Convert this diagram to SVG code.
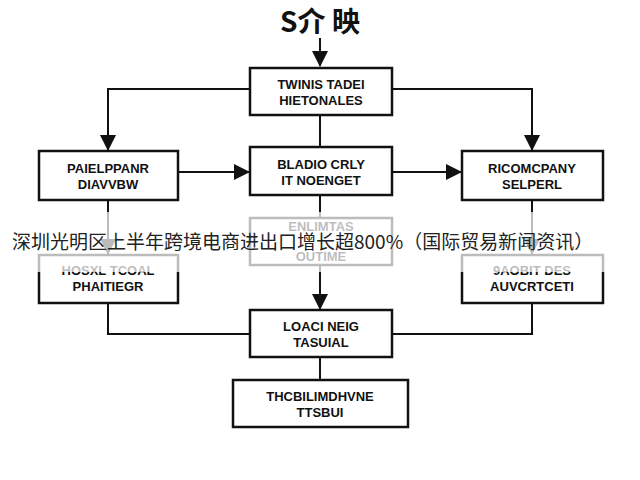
<svg xmlns="http://www.w3.org/2000/svg" width="640" height="480" viewBox="0 0 640 480">
<style>
.b{fill:#fff;stroke:#111;stroke-width:2.5}
.t{font-family:"Liberation Sans",Arial,sans-serif;font-weight:bold;font-size:13px;fill:#111;text-anchor:middle}
.c{fill:none;stroke:#111;stroke-width:2}
</style>
<defs><marker id="a2" markerWidth="16" markerHeight="16" refX="15" refY="8" orient="auto" markerUnits="userSpaceOnUse" viewBox="0 0 16 16"><path d="M0,0L16,8L0,16z" fill="#111"/></marker></defs>
<rect width="640" height="480" fill="#fff"/>
<text x="320" y="32" font-family="'Noto Sans CJK SC',sans-serif" font-weight="bold" font-size="28" text-anchor="middle" fill="#111">S介 映</text>
<g id="connectors">
<path class="c" d="M320,38V66" marker-end="url(#a2)"/>
<path class="c" d="M250,89H108V150" marker-end="url(#a2)"/>
<path class="c" d="M392,89H532V150" marker-end="url(#a2)"/>
<path class="c" d="M320,115V147"/>
<path class="c" d="M178,172H249" marker-end="url(#a2)"/>
<path class="c" d="M392,172H461" marker-end="url(#a2)"/>
<path class="c" d="M108,200V254" marker-end="url(#a2)"/>
<path class="c" d="M532,200V254" marker-end="url(#a2)"/>
<path class="c" d="M320,195V218"/>
<path class="c" d="M320,265V309" marker-end="url(#a2)"/>
<path class="c" d="M108,303V334H250"/>
<path class="c" d="M532,303V334H392"/>
<path class="c" d="M320,357V380"/>
</g>
<g id="n1"><rect class="b" x="250" y="68" width="142" height="47"/><text class="t" x="321" y="89">TWINIS TADEI</text><text class="t" x="321" y="105">HIETONALES</text></g>
<g id="n2"><rect class="b" x="39" y="151" width="139" height="49"/><text class="t" x="108" y="173">PAIELPPANR</text><text class="t" x="108" y="189">DIAVVBW</text></g>
<g id="n3"><rect class="b" x="250" y="147" width="142" height="48"/><text class="t" x="321" y="169">BLADIO CRLY</text><text class="t" x="321" y="185">IT NOENGET</text></g>
<g id="n4"><rect class="b" x="462" y="151" width="141" height="49"/><text class="t" x="532" y="173">RICOMCPANY</text><text class="t" x="532" y="189">SELPERL</text></g>
<g id="n5"><rect class="b" x="250" y="218" width="142" height="47"/><text class="t" x="321" y="231" font-size="11">ENLIMTAS</text><text class="t" x="321" y="261" font-size="11">OUTIME</text></g>
<g id="n6"><rect class="b" x="39" y="255" width="139" height="48"/><text class="t" x="108" y="275">HOSXL TCOAL</text><text class="t" x="108" y="291">PHAITIEGR</text></g>
<g id="n7"><rect class="b" x="462" y="255" width="141" height="48"/><text class="t" x="532" y="275">9AOBIT DES</text><text class="t" x="532" y="291">AUVCRTCETI</text></g>
<g id="n8"><rect class="b" x="250" y="310" width="142" height="47"/><text class="t" x="321" y="331">LOACI NEIG</text><text class="t" x="321" y="347">TASUIAL</text></g>
<g id="n9"><rect class="b" x="233" y="380" width="175" height="47"/><text class="t" x="320" y="401">THCBILIMDHVNE</text><text class="t" x="320" y="417">TTSBUI</text></g>
<rect x="0" y="212" width="640" height="60" fill="#fff" opacity="0.72"/>
<text x="12" y="249" font-family="'Noto Sans CJK SC',sans-serif" font-size="19" fill="#222">深圳光明区上半年跨境电商进出口增长超800%（国际贸易新闻资讯）</text>
</svg>
